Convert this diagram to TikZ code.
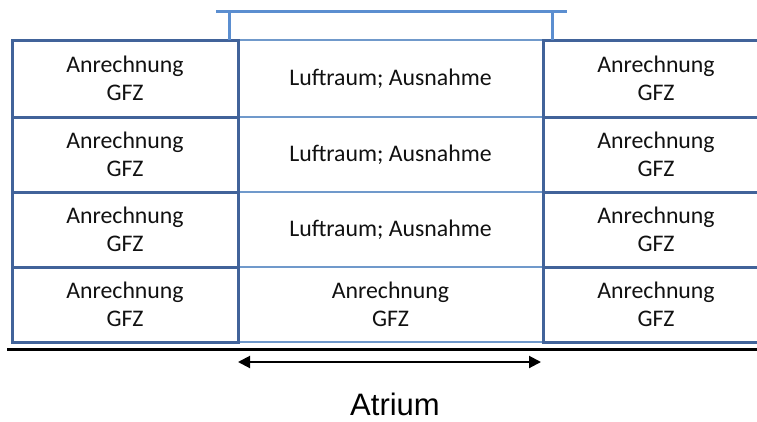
\documentclass[tikz,border=0pt]{standalone}
\usepackage{fontspec}
\setmainfont{Carlito}
\newfontfamily\arialf{Liberation Sans}
\usetikzlibrary{arrows.meta}
\definecolor{wallblue}{HTML}{41639A}
\definecolor{lightblue}{HTML}{7099CB}
\definecolor{roofblue}{HTML}{5B8ED0}
\definecolor{txt}{HTML}{111111}
\tikzset{
  cellbase/.style={inner sep=0pt, align=center, text=txt,
    font=\fontsize{23.8}{28}\selectfont},
  sidecell/.style={cellbase, draw=wallblue, line width=3pt, minimum width=226pt},
  midcell/.style={cellbase, draw=lightblue, line width=2pt, minimum width=305pt},
  roofline/.style={draw=roofblue, line width=3pt},
  ground/.style={draw=black, line width=3pt},
  dimarrow/.style={draw=black, line width=2pt, {Triangle[length=12pt,width=12pt]}-{Triangle[length=12pt,width=12pt]}}
}
\begin{document}
\begin{tikzpicture}[x=1pt,y=-1pt]
\useasboundingbox (0,0) rectangle (757,421);
\clip (0,0) rectangle (757,421);
% center cells
\node[midcell, minimum height=77pt] (M1) at (390.5,78.5) {Luftraum; Ausnahme};
\node[midcell, minimum height=75pt] (M2) at (390.5,154.5) {Luftraum; Ausnahme};
\node[midcell, minimum height=75pt] (M3) at (390.5,229.5) {Luftraum; Ausnahme};
\node[midcell, minimum height=75pt] (M4) at (390.5,304.5) {Anrechnung\\GFZ};
% left cells
\node[sidecell, minimum height=77pt] (L1) at (125,78.5) {Anrechnung\\GFZ};
\node[sidecell, minimum height=75pt] (L2) at (125,154.5) {Anrechnung\\GFZ};
\node[sidecell, minimum height=75pt] (L3) at (125,229.5) {Anrechnung\\GFZ};
\node[sidecell, minimum height=75pt] (L4) at (125,304.5) {Anrechnung\\GFZ};
% right cells
\node[sidecell, minimum height=77pt] (R1) at (656,78.5) {Anrechnung\\GFZ};
\node[sidecell, minimum height=75pt] (R2) at (656,154.5) {Anrechnung\\GFZ};
\node[sidecell, minimum height=75pt] (R3) at (656,229.5) {Anrechnung\\GFZ};
\node[sidecell, minimum height=75pt] (R4) at (656,304.5) {Anrechnung\\GFZ};
% roof
\coordinate (rl) at (216,11);
\coordinate (rr) at (567,11);
\coordinate (pl) at (229,11);
\coordinate (pr) at (552,11);
\coordinate (plb) at (229,40);
\coordinate (prb) at (552,40);
\draw[roofline] (rl) -- (rr);
\draw[roofline] (pl) -- (plb);
\draw[roofline] (pr) -- (prb);
% ground
\coordinate (g1) at (7,349);
\coordinate (g2) at (757,349);
\draw[ground] (g1) -- (g2);
% atrium arrow
\coordinate (a1) at (238,362);
\coordinate (a2) at (541,362);
\draw[dimarrow] (a1) -- (a2);
\node[inner sep=0pt, font=\arialf\fontsize{31}{36}\selectfont, text=black] (atr) at (395,404) {Atrium};
\end{tikzpicture}
\end{document}
